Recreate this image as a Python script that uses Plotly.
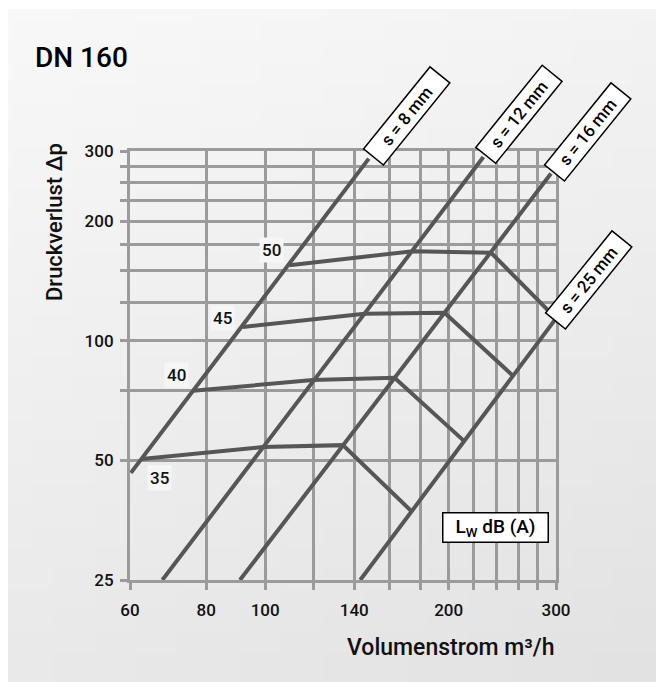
import base64
import struct
import zlib
import plotly.graph_objects as go

# ---------------- data ----------------
x_label_vals = [60, 80, 100, 140, 200, 300]
x_minor_vals = [120, 160, 180, 220, 240, 260, 280]
y_label_vals = [25, 50, 100, 200, 300]
y_minor_vals = [75, 125, 150, 175, 225, 250, 275]

s_names = ["s = 8 mm", "s = 12 mm", "s = 16 mm", "s = 25 mm"]
s8_v = [60.2, 147.9]
s8_dp = [46.5, 287.1]
s12_v = [67.8, 228.0]
s12_dp = [25, 289.7]
s16_v = [90.9, 294.4]
s16_dp = [25, 263.3]
s25_v = [143.2, 300]
s25_dp = [25, 113.8]

db_levels = ["35", "40", "45", "50"]
db35_v = [62.7, 99.1, 134.1, 174.2]
db35_dp = [50.4, 54.0, 54.6, 37.1]
db40_v = [76.1, 119.7, 163.0, 212.3]
db40_dp = [74.8, 79.6, 80.7, 55.8]
db45_v = [91.9, 145.5, 196.9, 255.4]
db45_dp = [108.3, 116.9, 117.5, 81.4]
db50_v = [109.6, 174.7, 234.8, 300]
db50_dp = [154.8, 167.9, 166.4, 113.8]

# ---------------- layout geometry ----------------
OFF = 8                      # page body margin
W, H = 664 - OFF, 682 - OFF  # figure size
ML, MR, MT, MB = 130 - OFF, 108, 151 - OFF, 102
PW = W - ML - MR
PH = H - MT - MB


def px(xp, yp):
    """page pixel -> paper coords"""
    return (xp - OFF - ML) / PW, (H - MB - (yp - OFF)) / PH


def gradient_png(w, h, tl, tr, bl, br):
    raw = b""
    for j in range(h):
        fy = j / (h - 1)
        raw += b"\x00"
        for i in range(w):
            fx = i / (w - 1)
            p = []
            for c in range(3):
                top = tl[c] * (1 - fx) + tr[c] * fx
                bot = bl[c] * (1 - fx) + br[c] * fx
                p.append(int(round(top * (1 - fy) + bot * fy)))
            raw += bytes(p)

    def chunk(tag, data):
        c = struct.pack(">I", len(data)) + tag + data
        return c + struct.pack(">I", zlib.crc32(tag + data) & 0xFFFFFFFF)

    png = b"\x89PNG\r\n\x1a\n"
    png += chunk(b"IHDR", struct.pack(">IIBBBBB", w, h, 8, 2, 0, 0, 0))
    png += chunk(b"IDAT", zlib.compress(raw, 9))
    png += chunk(b"IEND", b"")
    return "data:image/png;base64," + base64.b64encode(png).decode()


bg = gradient_png(32, 32, (248, 248, 248), (243, 243, 243), (233, 233, 233), (226, 226, 226))

LINE = "#565656"
GRID = "#9b9b9b"
FONT = "Roboto"

fig = go.Figure()
for xs, ys in [(s8_v, s8_dp), (s12_v, s12_dp), (s16_v, s16_dp), (s25_v, s25_dp),
               (db35_v, db35_dp), (db40_v, db40_dp), (db45_v, db45_dp), (db50_v, db50_dp)]:
    fig.add_trace(go.Scatter(x=xs, y=ys, mode="lines", showlegend=False,
                             line=dict(color=LINE, width=4), hoverinfo="skip"))

axis_common = dict(type="log", showgrid=True, gridcolor=GRID, gridwidth=3,
                   showline=True, linecolor=GRID, linewidth=3, mirror=True,
                   ticks="outside", ticklen=7, tickwidth=3, tickcolor=GRID,
                   zeroline=False, tickmode="array",
                   tickfont=dict(family=FONT, size=17, color="#111", weight=500))
minor_common = dict(showgrid=True, gridcolor=GRID, gridwidth=3, ticks="outside",
                    ticklen=7, tickwidth=3, tickcolor=GRID, tickmode="array")

fig.update_xaxes(range=[1.7781513, 2.4771213], tickvals=x_label_vals,
                 ticktext=[str(v) for v in x_label_vals], ticklabelstandoff=6,
                 minor=dict(tickvals=x_minor_vals, **minor_common), **axis_common)
fig.update_yaxes(range=[1.39794, 2.4771213], tickvals=y_label_vals,
                 ticktext=[str(v) for v in y_label_vals], ticklabelstandoff=3,
                 minor=dict(tickvals=y_minor_vals, **minor_common), **axis_common)

ann = []
# s-labels
s_centers = [(406, 116), (519, 115), (587, 132), (588, 280)]
for name, (cx, cy) in zip(s_names, s_centers):
    xp, yp = px(cx, cy)
    ann.append(dict(x=xp, y=yp, xref="paper", yref="paper", text=name, showarrow=False,
                    textangle=-51, xanchor="center", yanchor="middle",
                    font=dict(family=FONT, size=17, color="#000", weight=500),
                    bgcolor="white", bordercolor="#000", borderwidth=1.5, borderpad=2,
                    width=100, height=20))
# dB labels
db_pos = [(159, 478), (176, 375), (222, 318), (271, 250)]
for lab, (cx, cy) in zip(db_levels, db_pos):
    xp, yp = px(cx, cy)
    ann.append(dict(x=xp, y=yp, xref="paper", yref="paper", text=lab, showarrow=False,
                    xanchor="center", yanchor="middle",
                    font=dict(family=FONT, size=17, color="#111", weight=500),
                    bgcolor="#f6f6f6", borderpad=2))
# Lw box
xp, yp = px(495, 527)
ann.append(dict(x=xp, y=yp, xref="paper", yref="paper", text="L<sub>W</sub> dB (A)",
                showarrow=False, xanchor="center", yanchor="middle",
                font=dict(family=FONT, size=19, color="#000", weight=500),
                bgcolor="white", bordercolor="#000", borderwidth=1.5, borderpad=2,
                width=100, height=24))
# Title
xp, yp = px(33, 57)
ann.append(dict(x=xp, y=yp, xref="paper", yref="paper", text="DN 160", showarrow=False,
                xanchor="left", yanchor="middle",
                font=dict(family=FONT, size=28, color="#000", weight=500)))
# axis titles
xp, yp = px(557, 647)
ann.append(dict(x=xp, y=yp, xref="paper", yref="paper",
                text="Volumenstrom m³/h",
                showarrow=False, xanchor="right", yanchor="middle",
                font=dict(family=FONT, size=23, color="#111", weight=500)))
xp, yp = px(55, 222)
ann.append(dict(x=xp, y=yp, xref="paper", yref="paper", text="Druckverlust Δp",
                showarrow=False, xanchor="center", yanchor="middle", textangle=-90,
                font=dict(family=FONT, size=22, color="#111", weight=500)))

x0, y0 = px(0, 9)
x1, y1 = px(664, 682)
fig.update_layout(
    width=W, height=H,
    margin=dict(l=ML, r=MR, t=MT, b=MB, autoexpand=False),
    paper_bgcolor="white", plot_bgcolor="rgba(0,0,0,0)",
    annotations=ann,
    images=[dict(source=bg, xref="paper", yref="paper", x=x0, y=y0,
                 sizex=x1 - x0, sizey=y0 - y1, sizing="stretch", layer="below",
                 xanchor="left", yanchor="top")],
)

fig.write_html("out.html")
